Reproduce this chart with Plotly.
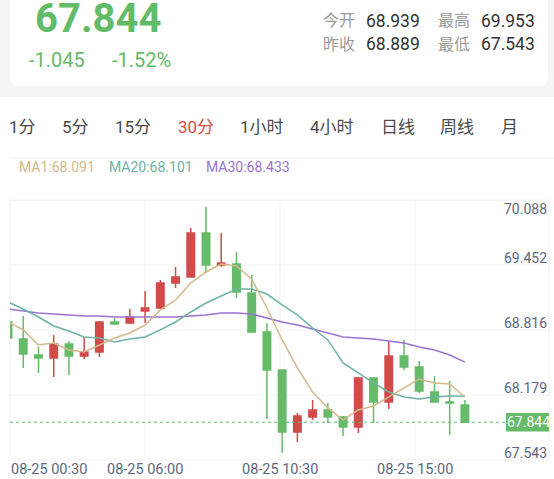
import plotly.graph_objects as go

W, H = 554, 479

# ---------------- data ----------------
times = ["00:30", "01:00", "01:30", "02:00", "02:30", "03:00", "03:30", "04:00", "04:30",
         "06:00", "06:30", "07:00", "07:30", "08:00", "08:30", "09:00", "09:30", "10:00",
         "10:30", "11:00", "11:30", "12:00", "12:30", "13:00", "13:30", "14:00", "14:30",
         "15:00", "15:30", "16:00", "16:30"]
date_prefix = "08-25"

open_ = [68.826, 68.660, 68.503, 68.473, 68.611, 68.493, 68.532, 68.826, 68.816, 68.934,
         68.963, 69.208, 69.267, 69.698, 69.384, 69.394, 69.110, 68.728, 68.356, 67.749,
         67.896, 67.964, 67.896, 67.798, 68.278, 68.043, 68.493, 68.385, 68.140, 68.043, 68.013]
high = [68.855, 68.885, 68.581, 68.699, 68.640, 68.679, 68.836, 68.865, 68.953, 69.130,
        69.237, 69.365, 69.747, 69.953, 69.698, 69.512, 69.286, 68.816, 68.356, 67.935,
        68.062, 68.033, 67.905, 68.287, 68.287, 68.630, 68.650, 68.444, 68.297, 68.248, 68.062]
low = [68.640, 68.376, 68.327, 68.287, 68.307, 68.464, 68.483, 68.797, 68.806, 68.816,
       68.953, 69.159, 69.267, 69.306, 69.365, 69.061, 68.718, 67.876, 67.543, 67.651,
       67.866, 67.837, 67.710, 67.739, 67.837, 67.974, 68.356, 68.131, 68.043, 67.719, 67.844]
close = [68.669, 68.513, 68.473, 68.611, 68.493, 68.532, 68.826, 68.806, 68.875, 68.963,
         69.208, 69.267, 69.698, 69.384, 69.404, 69.120, 68.728, 68.356, 67.749, 67.905,
         67.964, 67.896, 67.798, 68.278, 68.043, 68.493, 68.385, 68.150, 68.043, 68.033, 67.844]

ma1 = [68.826, 68.748, 68.601, 68.620, 68.552, 68.532, 68.601, 68.669, 68.718, 68.797,
       68.944, 69.042, 69.208, 69.316, 69.394, 69.375, 69.247, 68.963, 68.650, 68.376,
       68.140, 67.984, 67.866, 67.964, 68.003, 68.091, 68.180, 68.268, 68.229, 68.219, 68.091]
ma20 = [69.022, 68.953, 68.875, 68.787, 68.738, 68.679, 68.669, 68.630, 68.660, 68.679,
        68.748, 68.826, 68.924, 69.012, 69.081, 69.149, 69.149, 69.100, 68.993, 68.895,
        68.767, 68.650, 68.425, 68.327, 68.229, 68.140, 68.091, 68.072, 68.091, 68.101, 68.101]
ma30 = [68.953, 68.934, 68.914, 68.904, 68.895, 68.885, 68.885, 68.875, 68.875, 68.875,
        68.875, 68.875, 68.885, 68.895, 68.914, 68.914, 68.904, 68.865, 68.826, 68.797,
        68.758, 68.718, 68.679, 68.669, 68.660, 68.640, 68.620, 68.581, 68.552, 68.503, 68.433]

ma_labels = ["MA1:68.091", "MA20:68.101", "MA30:68.433"]
y_tick_labels = ["70.088", "69.452", "68.816", "68.179", "67.543"]
x_label_index = [0, 9, 18, 27]

last_price = "67.844"
change = "-1.045"
change_pct = "-1.52%"
stats = [("今开", "68.939"), ("最高", "69.953"), ("昨收", "68.889"), ("最低", "67.543")]
tabs = ["1分", "5分", "15分", "30分", "1小时", "4小时", "日线", "周线", "月"]
active_tab = "30分"

# ---------------- styles ----------------
RED = "#d24b4b"
GREEN = "#66bb6a"
TAN = "#d2b98a"
TEAL = "#6cb3a6"
PURPLE = "#9b72d2"
AXIS_TXT = "#5b6780"
GRID = "#f2f2f2"
FONT = "Roboto, Noto Sans CJK SC, sans-serif"


def px(x):
    return x / W


def py(y):
    return 1 - y / H


idx = list(range(len(times)))

fig = go.Figure()
fig.add_trace(go.Candlestick(
    x=idx, open=open_, high=high, low=low, close=close,
    increasing=dict(line=dict(color=RED, width=1.5), fillcolor=RED),
    decreasing=dict(line=dict(color=GREEN, width=1.5), fillcolor=GREEN),
    whiskerwidth=0, showlegend=False, hoverinfo="skip"))
for vals, col in [(ma30, PURPLE), (ma20, TEAL), (ma1, TAN)]:
    fig.add_trace(go.Scatter(x=idx, y=vals, mode="lines",
                             line=dict(color=col, width=1.5),
                             showlegend=False, hoverinfo="skip"))

shapes = []
annotations = []

# header backgrounds
shapes.append(dict(type="rect", xref="paper", yref="paper", x0=0, x1=1, y0=py(97), y1=1.05,
                   fillcolor="#f5f5f5", line=dict(width=0), layer="below"))
r = 9
x0c, x1c, y0c, y1c = 10, 548, -20, 86
path = (f"M {px(x0c)},{py(y0c)} L {px(x1c)},{py(y0c)} "
        f"L {px(x1c)},{py(y1c - r)} Q {px(x1c)},{py(y1c)} {px(x1c - r)},{py(y1c)} "
        f"L {px(x0c + r)},{py(y1c)} Q {px(x0c)},{py(y1c)} {px(x0c)},{py(y1c - r)} Z")
shapes.append(dict(type="path", xref="paper", yref="paper", path=path,
                   fillcolor="white", line=dict(width=0), layer="below"))
shapes.append(dict(type="line", xref="paper", yref="paper", x0=px(10), x1=1,
                   y0=py(158), y1=py(158), line=dict(color="#f0f0f0", width=1), layer="below"))

# grid
gx = [10, 145, 280, 415, 549]
gy = [200, 265, 330, 395, 460]
for xv in gx:
    shapes.append(dict(type="line", xref="paper", yref="paper", x0=px(xv), x1=px(xv),
                       y0=py(200), y1=py(460), line=dict(color=GRID, width=1), layer="below"))
for yv in gy:
    shapes.append(dict(type="line", xref="paper", yref="paper", x0=px(10), x1=px(549),
                       y0=py(yv), y1=py(yv), line=dict(color=GRID, width=1), layer="below"))

# last price dotted line + tag
shapes.append(dict(type="line", xref="paper", yref="y", x0=px(10), x1=px(507),
                   y0=close[-1], y1=close[-1], line=dict(color=GREEN, width=1, dash="dot")))
shapes.append(dict(type="rect", xref="paper", yref="y", x0=px(506), x1=px(549),
                   y0=close[-1] - 0.09, y1=close[-1] + 0.09,
                   fillcolor=GREEN, line=dict(width=0)))
annotations.append(dict(xref="paper", yref="y", x=px(528), y=close[-1], text=last_price,
                        showarrow=False, xanchor="center", yanchor="middle",
                        font=dict(family=FONT, size=14, color="white")))

# header text
annotations.append(dict(xref="paper", yref="paper", x=px(98), y=py(18), text=f"<b>{last_price}</b>",
                        showarrow=False, xanchor="center", yanchor="middle",
                        font=dict(family=FONT, size=40, color="#62bb67")))
annotations.append(dict(xref="paper", yref="paper", x=px(57), y=py(60), text=change,
                        showarrow=False, xanchor="center", yanchor="middle",
                        font=dict(family=FONT, size=20, color="#62bb67")))
annotations.append(dict(xref="paper", yref="paper", x=px(141), y=py(60), text=change_pct,
                        showarrow=False, xanchor="center", yanchor="middle",
                        font=dict(family=FONT, size=20, color="#62bb67")))
stat_pos = [(357, 364, 21), (472, 479, 21), (357, 364, 44), (472, 479, 44)]
for (lab, val), (lx, vx, yy) in zip(stats, stat_pos):
    annotations.append(dict(xref="paper", yref="paper", x=px(lx), y=py(yy), text=lab,
                            showarrow=False, xanchor="right", yanchor="middle",
                            font=dict(family=FONT, size=16, color="#9a9a9a")))
    annotations.append(dict(xref="paper", yref="paper", x=px(vx), y=py(yy), text=val,
                            showarrow=False, xanchor="left", yanchor="middle",
                            font=dict(family=FONT, size=17.5, color="#333333")))

# tabs
tab_x = [22, 75, 133, 196, 262, 332, 398, 457, 509]
for t, tx in zip(tabs, tab_x):
    annotations.append(dict(xref="paper", yref="paper", x=px(tx), y=py(127), text=t,
                            showarrow=False, xanchor="center", yanchor="middle",
                            font=dict(family=FONT, size=17,
                                      color="#d94a45" if t == active_tab else "#4a4a4a")))

# MA legend
for lab, lx, col in zip(ma_labels, [17, 107, 204], [TAN, TEAL, PURPLE]):
    annotations.append(dict(xref="paper", yref="paper", x=px(lx), y=py(167), text=lab,
                            showarrow=False, xanchor="left", yanchor="middle",
                            font=dict(family=FONT, size=14, color=col)))

# y-axis labels
for i, lab in enumerate(y_tick_labels):
    if i == 0:
        annotations.append(dict(xref="paper", yref="paper", x=px(549), y=py(209), text=lab,
                                showarrow=False, xanchor="right", yanchor="middle",
                                font=dict(family=FONT, size=14, color=AXIS_TXT)))
    else:
        annotations.append(dict(xref="paper", yref="y", x=px(549), y=float(lab), text=lab,
                                showarrow=False, xanchor="right", yanchor="middle",
                                font=dict(family=FONT, size=14, color=AXIS_TXT)))

# x-axis labels
for j, k in enumerate(x_label_index):
    lab = f"{date_prefix} {times[k]}"
    if j == 0:
        annotations.append(dict(xref="paper", yref="paper", x=px(9), y=py(469), text=lab,
                                showarrow=False, xanchor="left", yanchor="middle",
                                font=dict(family=FONT, size=14.5, color=AXIS_TXT)))
    else:
        annotations.append(dict(xref="paper", yref="paper", x=px(gx[j]), y=py(469), text=lab,
                                showarrow=False, xanchor="center", yanchor="middle",
                                font=dict(family=FONT, size=14.5, color=AXIS_TXT)))

fig.update_layout(
    width=W, height=H, autosize=False,
    margin=dict(l=0, r=0, t=0, b=0),
    paper_bgcolor="white", plot_bgcolor="rgba(0,0,0,0)",
    showlegend=False, boxgap=0.3,
    shapes=shapes, annotations=annotations,
    xaxis=dict(domain=[px(10), px(549)], range=[0.131, 35.52], showgrid=False,
               zeroline=False, showticklabels=False, showline=False, ticks="",
               rangeslider=dict(visible=False), fixedrange=True),
    yaxis=dict(domain=[py(460), py(200)], range=[67.474, 70.021], showgrid=False,
               zeroline=False, showticklabels=False, showline=False, ticks="",
               fixedrange=True),
    font=dict(family=FONT),
)

fig.write_html("out.html", config={"displayModeBar": False},
               post_script="document.body.style.margin='0px';document.body.style.overflow='hidden';")
